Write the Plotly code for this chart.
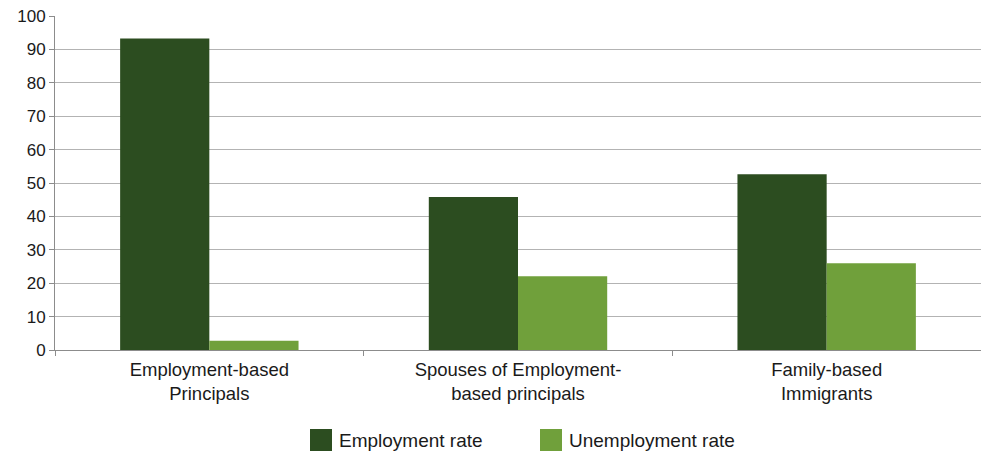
import plotly.graph_objects as go

# Labour-market outcomes by admission category (%)
categories = [
    "Employment-based<br>Principals",
    "Spouses of Employment-<br>based principals",
    "Family-based<br>Immigrants",
]
employment_rate = [93.3, 45.8, 52.6]
unemployment_rate = [2.8, 22.1, 26.0]
series_names = ["Employment rate", "Unemployment rate"]
series_colors = ["#2c4d20", "#70a03b"]

W, H = 981, 452
L, T, B = 55, 16, 102
FONT = "Liberation Sans, Arial, sans-serif"

fig = go.Figure()
for name, vals, col in zip(series_names, [employment_rate, unemployment_rate], series_colors):
    fig.add_trace(go.Bar(
        x=categories, y=vals, name=name,
        marker=dict(color=col, line=dict(width=0)),
        showlegend=False,
    ))

# Legend drawn as square swatches with labels below the plot
plot_h = H - T - B
legend_x = [310, 540]
for (name, col, x0) in zip(series_names, series_colors, legend_x):
    fig.add_shape(type="rect", xref="paper", yref="paper",
                  x0=(x0 - L) / (W - L), x1=(x0 + 22 - L) / (W - L),
                  y0=(H - B - 451) / plot_h, y1=(H - B - 429) / plot_h,
                  fillcolor=col, line=dict(width=0))
    fig.add_annotation(xref="paper", yref="paper",
                       x=(x0 + 27 - L) / (W - L), y=(H - B - 440) / plot_h,
                       text=name, showarrow=False, xanchor="left", yanchor="middle",
                       font=dict(family=FONT, size=19, color="#1a1a1a"))

fig.update_layout(
    width=W, height=H,
    margin=dict(l=L, r=0, t=T, b=B),
    paper_bgcolor="white", plot_bgcolor="white",
    barmode="group", bargap=0.422, bargroupgap=0,
    font=dict(family=FONT, size=17, color="#1a1a1a"),
)
fig.update_xaxes(
    showline=True, linecolor="#8c8c8c", linewidth=1,
    ticks="outside", ticklen=5, tickcolor="#8c8c8c", tickson="boundaries",
    tickfont=dict(family=FONT, size=18.5, color="#1a1a1a"),
    ticklabelstandoff=3,
    showgrid=False,
)
fig.update_yaxes(
    range=[0, 100], dtick=10, tick0=0,
    showline=True, linecolor="#8c8c8c", linewidth=1,
    ticks="outside", ticklen=5, tickcolor="#8c8c8c",
    showgrid=True, gridcolor="#b3b3b3", gridwidth=1,
    zeroline=False,
    tickfont=dict(family=FONT, size=17, color="#1a1a1a"),
)

fig.write_html("out.html")
